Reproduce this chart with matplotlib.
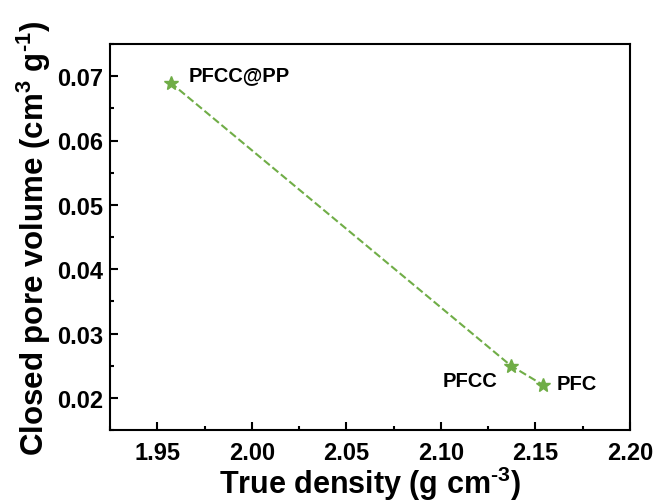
import matplotlib.pyplot as plt
from matplotlib.ticker import MultipleLocator

plt.rcParams['font.family'] = ['Liberation Sans', 'DejaVu Sans']
plt.rcParams['font.weight'] = 'bold'
plt.rcParams['mathtext.fontset'] = 'custom'
plt.rcParams['mathtext.rm'] = 'Liberation Sans:bold'
plt.rcParams['mathtext.bf'] = 'Liberation Sans:bold'
plt.rcParams['mathtext.it'] = 'Liberation Sans:bold'

# data
samples = ['PFCC@PP', 'PFCC', 'PFC']
density = [1.957, 2.137, 2.154]
closed_pore = [0.069, 0.025, 0.022]

green = '#70AD47'

fig = plt.figure(figsize=(6.56, 5.02), dpi=100)
ax = fig.add_axes([110 / 656, 1 - 431 / 502, (630 - 110) / 656, (431 - 45) / 502])

ax.plot(density, closed_pore, '--', color=green, lw=1.5, marker='*',
        markersize=10, markeredgecolor=green, markerfacecolor=green)

offsets = {'PFCC@PP': (13, 6, 'left'), 'PFCC': (-10, -11, 'right'), 'PFC': (10, 1, 'left')}
for name, x, y in zip(samples, density, closed_pore):
    dx, dy, ha = offsets[name]
    ax.annotate(name, (x, y), xytext=(dx, dy), textcoords='offset points',
                ha=ha, va='center', fontsize=14.5, fontweight='bold')

ax.set_xlim(1.925, 2.20)
ax.set_ylim(0.015, 0.075)
ax.xaxis.set_minor_locator(MultipleLocator(0.025))
ax.yaxis.set_minor_locator(MultipleLocator(0.005))
ax.set_xticks([1.95, 2.00, 2.05, 2.10, 2.15, 2.20])
ax.set_xticklabels(['1.95', '2.00', '2.05', '2.10', '2.15', '2.20'])
ax.set_yticks([0.02, 0.03, 0.04, 0.05, 0.06, 0.07])
ax.set_yticklabels(['0.02', '0.03', '0.04', '0.05', '0.06', '0.07'])

ax.tick_params(which='both', direction='in', width=1.5, labelsize=17, top=False, right=False)
ax.tick_params(which='major', length=6)
ax.tick_params(axis='x', which='major', pad=8)
ax.tick_params(axis='y', which='major', pad=5)
ax.tick_params(which='minor', length=3)
for s in ax.spines.values():
    s.set_linewidth(1.5)

ax.set_xlabel(r'True density (g cm$^{\text{-3}}$)', fontsize=22, fontweight='bold', labelpad=0)
ax.set_ylabel(r'Closed pore volume (cm$^{\text{3}}$ g$^{\text{-1}}$)', fontsize=22.5,
              fontweight='bold', labelpad=3)

fig.savefig('out.png', dpi=100)
